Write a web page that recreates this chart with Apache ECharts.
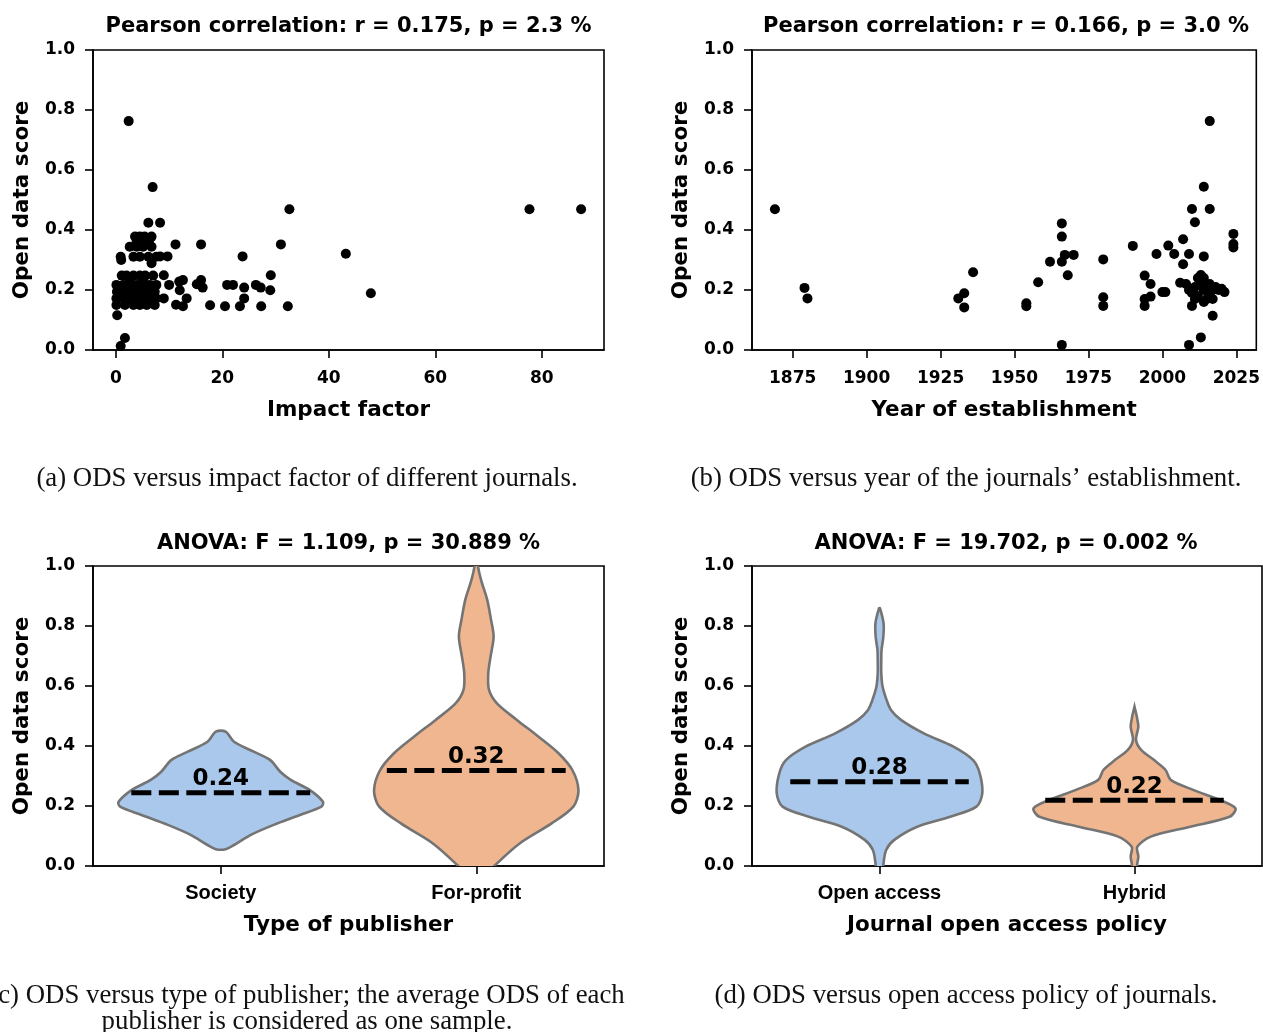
<!DOCTYPE html>
<html><head><meta charset="utf-8">
<script src="https://cdn.jsdelivr.net/npm/echarts@6/dist/echarts.min.js"></script>
<style>html,body{margin:0;padding:0;background:#fff}#main{width:1263px;height:1032px}</style>
</head><body><div id="main"></div>
<script>
// ---------- DATA ----------
// (a) impact factor vs open data score
const impactPoints = [
  [2.4,0.763],[6.9,0.543],[32.6,0.469],[6.1,0.424],[8.3,0.424],[11.2,0.352],[16,0.352],[31,0.352],
  [43.2,0.321],[23.8,0.312],[29.1,0.249],[29,0.199],[32.3,0.146],[27.3,0.146],[23.3,0.146],[20.5,0.146],
  [17.7,0.149],[24.1,0.172],[24.1,0.208],[26.3,0.217],[27.2,0.208],[20.9,0.217],[22.0,0.217],[16,0.233],
  [16.3,0.208],[15.2,0.219],[13.3,0.172],[12.6,0.146],[11.3,0.151],[12.6,0.233],[11.9,0.228],[12.0,0.199],
  [10,0.217],[9.0,0.249],[9.0,0.172],[9.7,0.312],[8.3,0.312],[6.7,0.289],[0.25,0.116],[1.7,0.040],
  [0.9,0.013],[47.9,0.189],[77.7,0.469],[87.4,0.469],
  [3.6,0.378],[4.5,0.378],[5.4,0.378],[6.7,0.378],[3.9,0.36],[5.1,0.36],[6.2,0.36],
  [2.6,0.344],[3.9,0.344],[5.1,0.344],[6.7,0.344],
  [0.9,0.311],[3.3,0.311],[4.5,0.311],[6.1,0.311],[7.6,0.311],[1.0,0.30],
  [1.1,0.248],[2.0,0.248],[3.3,0.248],[4.5,0.248],[5.5,0.248],[7.0,0.248],[2.6,0.232],[5.1,0.232],
  [0.1,0.217],[1.4,0.217],[2.6,0.217],[3.9,0.217],[5.1,0.217],[6.4,0.217],[7.6,0.217],
  [0.2,0.194],[1.1,0.194],[2.3,0.194],[3.6,0.194],[4.8,0.194],[6.1,0.194],[7.3,0.194],
  [0.1,0.172],[1.4,0.172],[2.6,0.172],[3.9,0.172],[5.1,0.172],[6.4,0.172],[7.6,0.172],
  [0.1,0.15],[1.7,0.15],[3.3,0.15],[4.5,0.15],[5.8,0.15],[7.3,0.15]
];
// (b) year of establishment vs open data score
const yearPoints = [
  [1869,0.469],[1879,0.207],[1880,0.172],[1931,0.172],[1933,0.189],[1933,0.142],[1936,0.259],
  [1954,0.156],[1954,0.146],[1958,0.226],[1962,0.294],[1966,0.422],[1966,0.378],[1966,0.294],
  [1967,0.317],[1970,0.317],[1968,0.249],[1966,0.017],[1980,0.302],[1980,0.176],[1980,0.147],
  [1990,0.347],[1994,0.248],[1996,0.22],[1996,0.178],[1994,0.17],[1994,0.147],[2000,0.193],
  [2001,0.193],[1998,0.32],[2002,0.348],[2004,0.32],[2007,0.369],[2009,0.32],[2007,0.286],
  [2006,0.224],[2010,0.47],[2011,0.426],[2014,0.544],[2016,0.47],[2016,0.763],[2014,0.312],
  [2010,0.147],[2017,0.114],[2013,0.042],[2009,0.017],[2024,0.387],[2024,0.353],[2024,0.342],
  [2020,0.204],[2021,0.193],
  [2008,0.22],[2009,0.2],[2010,0.19],[2011,0.21],[2012,0.18],[2013,0.25],[2013,0.22],[2014,0.2],
  [2014,0.24],[2015,0.17],[2015,0.21],[2016,0.19],[2016,0.22],[2017,0.2],[2018,0.21],[2012,0.24],
  [2011,0.17],[2014,0.16],[2017,0.17],[2019,0.2],[2016,0.175]
];
const impactTicks = [0, 20, 40, 60, 80];
const yearTicks = [1875, 1900, 1925, 1950, 1975, 2000, 2025];

// (c) publisher type violins
const publisherCats = ['Society', 'For-profit'];
const publisherMeans = [0.244, 0.318];
const societyLevels = [0.056,0.07,0.103,0.137,0.17,0.198,0.214,0.253,0.287,0.314,0.353,0.381,0.414,0.448];
const societyWidths = [0.019,0.052,0.116,0.207,0.31,0.394,0.40,0.349,0.274,0.233,0.194,0.129,0.052,0.019];
const forProfitLevels = [-0.05,0.003,0.076,0.142,0.198,0.253,0.32,0.376,0.431,0.487,0.542,0.587,0.642,0.698,0.764,0.82,0.887,0.953,0.998,1.05];
const forProfitWidths = [0.015,0.074,0.171,0.295,0.38,0.40,0.376,0.322,0.244,0.159,0.081,0.05,0.047,0.056,0.068,0.058,0.043,0.019,0.007,0.0];

// (d) open access policy violins
const policyCats = ['Open access', 'Hybrid'];
const policyMeans = [0.281, 0.219];
const openLevels = [-0.05,0.003,0.053,0.087,0.131,0.164,0.198,0.242,0.309,0.353,0.398,0.442,0.487,0.52,0.553,0.598,0.642,0.687,0.72,0.764,0.809,0.859];
const openWidths = [0.01,0.015,0.026,0.058,0.148,0.277,0.38,0.403,0.393,0.367,0.29,0.174,0.084,0.045,0.028,0.012,0.007,0.007,0.008,0.015,0.016,0.002];
const hybridLevels = [-0.05,0.003,0.031,0.064,0.098,0.131,0.164,0.192,0.22,0.253,0.287,0.32,0.353,0.387,0.42,0.464,0.498,0.531];
const hybridWidths = [0.008,0.01,0.015,0.011,0.064,0.219,0.373,0.396,0.335,0.232,0.142,0.122,0.077,0.026,0.006,0.015,0.009,0.0];

const panelTitles = [
  'Pearson correlation: r = 0.175, p = 2.3 %',
  'Pearson correlation: r = 0.166, p = 3.0 %',
  'ANOVA: F = 1.109, p = 30.889 %',
  'ANOVA: F = 19.702, p = 0.002 %'
];
const xNames = ['Impact factor', 'Year of establishment', 'Type of publisher', 'Journal open access policy'];
const yName = 'Open data score';
const captions = [
  '(a) ODS versus impact factor of different journals.',
  '(b) ODS versus year of the journals\u2019 establishment.',
  '(c) ODS versus type of publisher; the average ODS of each',
  'publisher is considered as one sample.',
  '(d) ODS versus open access policy of journals.'
];

// ---------- STYLE / LAYOUT ----------
const SANS = 'DejaVu Sans';
const grids = [
  {left: 93, top: 50, width: 511, height: 300},
  {left: 752, top: 50, width: 509, height: 300},
  {left: 93, top: 566, width: 511, height: 300},
  {left: 752, top: 566, width: 510, height: 300}
];
const fills = ['#a9c8eb', '#f0b68f'];

const axisLineStyle = {show: true, onZero: false, lineStyle: {color: '#000', width: 1.6}};
const tickStyle = {show: true, length: 8, lineStyle: {color: '#000', width: 1.6}};
const tickLabel = {color: '#000', fontFamily: SANS, fontWeight: 'bold', fontSize: 17};
const nameStyle = {color: '#000', fontFamily: SANS, fontWeight: 'bold', fontSize: 21.5};

function valueX(i, min, max, ticks) {
  return {
    gridIndex: i, type: 'value', min: min, max: max,
    axisLine: axisLineStyle,
    axisTick: Object.assign({customValues: ticks}, tickStyle),
    axisLabel: Object.assign({customValues: ticks, margin: 20, formatter: v => String(v)}, tickLabel),
    splitLine: {show: false},
    name: xNames[i], nameLocation: 'middle', nameGap: 49, nameTextStyle: nameStyle
  };
}
function catX(i, cats) {
  return {
    gridIndex: i, type: 'category', data: cats, boundaryGap: true,
    axisLine: axisLineStyle,
    axisTick: Object.assign({alignWithLabel: true}, tickStyle),
    axisLabel: {color: '#000', fontFamily: 'Liberation Sans', fontWeight: 'bold', fontSize: 20, margin: 17},
    splitLine: {show: false},
    name: xNames[i], nameLocation: 'middle', nameGap: 48, nameTextStyle: nameStyle
  };
}
function yAx(i) {
  return {
    gridIndex: i, type: 'value', min: 0, max: 1, interval: 0.2,
    axisLine: axisLineStyle, axisTick: tickStyle,
    axisLabel: Object.assign({margin: 18, padding: [5, 0, 0, 0], formatter: v => v.toFixed(1)}, tickLabel),
    splitLine: {show: false},
    name: yName, nameLocation: 'middle', nameGap: 60, nameRotate: 90, nameTextStyle: nameStyle
  };
}

function violinRender(levelSets, widthSets) {
  return function (params, api) {
    const i = params.dataIndex;
    const mean = api.value(1);
    const bw = api.size([1, 0])[0];
    const cx = api.coord([i, 0])[0];
    const lv = levelSets[i], wd = widthSets[i];
    const pts = [];
    for (let k = 0; k < lv.length; k++) pts.push([cx - wd[k] * bw, api.coord([i, lv[k]])[1]]);
    for (let k = lv.length - 1; k >= 0; k--) pts.push([cx + wd[k] * bw, api.coord([i, lv[k]])[1]]);
    const my = api.coord([i, mean])[1];
    return {
      type: 'group',
      children: [
        {type: 'polygon', shape: {points: pts, smooth: 0.3},
         style: {fill: fills[i], stroke: '#747474', lineWidth: 2.6}},
        {type: 'line', shape: {x1: cx - 0.35 * bw, y1: my, x2: cx + 0.35 * bw, y2: my},
         style: {stroke: '#000', lineWidth: 5, lineDash: [20, 7.5], lineCap: 'butt'}},
        {type: 'text', x: cx, y: my - 2,
         style: {text: mean.toFixed(2), textAlign: 'center', textVerticalAlign: 'bottom',
                 fontFamily: SANS, fontWeight: 'bold', fontSize: 23, fill: '#000'}}
      ]
    };
  };
}

const graphics = [];
const titleCenters = [[348.5, 27], [1006, 27], [348.5, 544], [1006, 544]];
panelTitles.forEach((t, i) => graphics.push({
  type: 'text', x: titleCenters[i][0], y: titleCenters[i][1],
  style: {text: t, textAlign: 'center', textVerticalAlign: 'middle',
          fontFamily: SANS, fontWeight: 'bold', fontSize: 21, fill: '#000'}
}));
const capPos = [[307, 479], [966, 479], [307, 996], [307, 1022], [966, 996]];
captions.forEach((t, i) => graphics.push({
  type: 'text', x: capPos[i][0], y: capPos[i][1],
  style: {text: t, textAlign: 'center', textVerticalAlign: 'middle',
          fontFamily: 'Liberation Serif', fontSize: 26.8, fill: '#111'}
}));

const chart = echarts.init(document.getElementById('main'), null, {renderer: 'canvas'});
chart.setOption({
  animation: false,
  backgroundColor: '#fff',
  grid: grids.map(g => Object.assign({show: true, borderColor: '#000', borderWidth: 1.6,
                                       backgroundColor: 'transparent', containLabel: false}, g)),
  xAxis: [
    valueX(0, -4.3, 91.7, impactTicks),
    valueX(1, 1861.25, 2031.75, yearTicks),
    catX(2, publisherCats),
    catX(3, policyCats)
  ],
  yAxis: [yAx(0), yAx(1), yAx(2), yAx(3)],
  series: [
    {type: 'scatter', xAxisIndex: 0, yAxisIndex: 0, data: impactPoints, symbolSize: 10,
     itemStyle: {color: '#000', opacity: 1}},
    {type: 'scatter', xAxisIndex: 1, yAxisIndex: 1, data: yearPoints, symbolSize: 10,
     itemStyle: {color: '#000', opacity: 1}},
    {type: 'custom', xAxisIndex: 2, yAxisIndex: 2, clip: true,
     data: publisherMeans.map((m, i) => [i, m]),
     renderItem: violinRender([societyLevels, forProfitLevels], [societyWidths, forProfitWidths])},
    {type: 'custom', xAxisIndex: 3, yAxisIndex: 3, clip: true,
     data: policyMeans.map((m, i) => [i, m]),
     renderItem: violinRender([openLevels, hybridLevels], [openWidths, hybridWidths])}
  ],
  graphic: graphics
});
</script></body></html>
